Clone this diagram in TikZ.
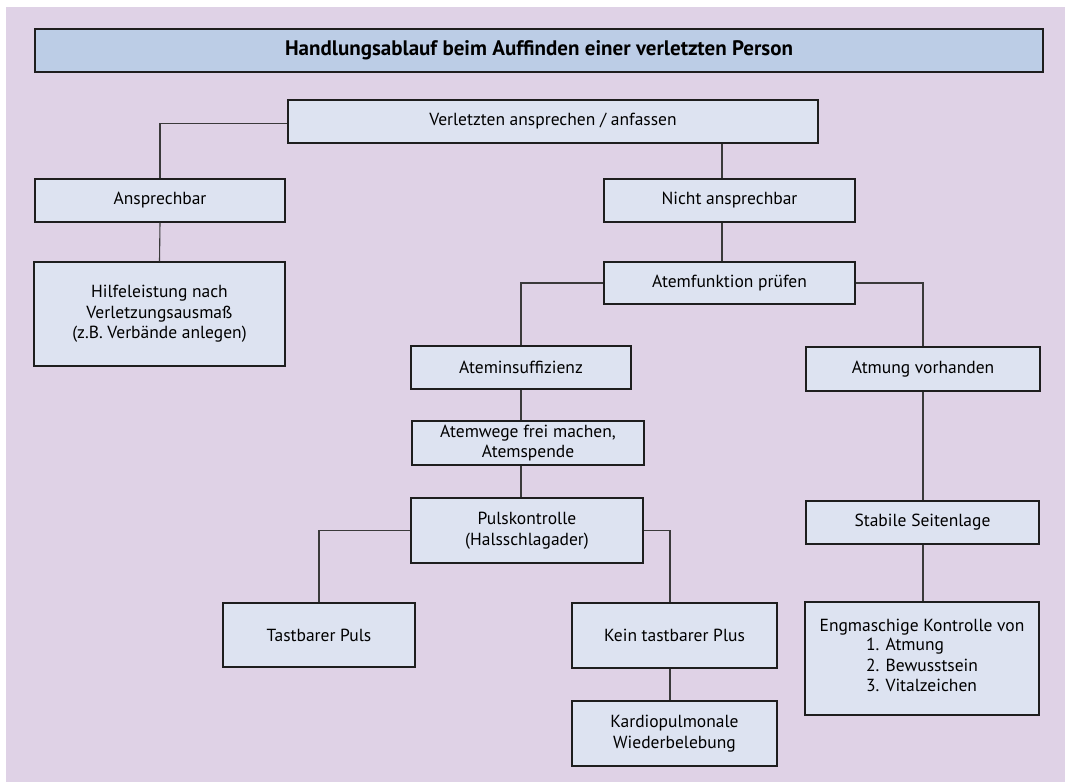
\documentclass[tikz,border=0pt]{standalone}
\usepackage{fontspec}
\setmainfont{PT Sans}
\definecolor{bg}{HTML}{DFD2E6}
\definecolor{titlefill}{HTML}{BCCDE6}
\definecolor{boxfill}{HTML}{DDE3F1}
\definecolor{edgec}{HTML}{1E1E1E}
\definecolor{connc}{HTML}{3A3A3A}
\newcommand\mybox[7][box]{\node[#1,minimum width={(#5-#3)*1pt},minimum height={(#6-#4)*1pt}] (#2) at ({(#3+#5)/2},{(#4+#6)/2}) {#7};}
\begin{document}
\begin{tikzpicture}[x=1pt,y=-1pt,
  box/.style={draw=edgec, fill=boxfill, line width=1.2pt, inner sep=0pt, align=center, text=black, font=\fontsize{17.5}{20.5}\selectfont},
  titlebox/.style={box, fill=titlefill, font=\fontsize{21}{24}\selectfont\bfseries},
  conn/.style={draw=connc, line width=1.1pt}]
\useasboundingbox (0,0) rectangle (1065,782);
\fill[white] (0,0) rectangle (1065,782);
\fill[bg] (6,7) rectangle (1065,782);

\mybox[titlebox]{title}{35}{29}{1043}{72}{Handlungsablauf beim Auffinden einer verletzten Person}
\mybox{ver}{288}{100}{818}{143}{Verletzten ansprechen / anfassen}
\mybox{ans}{35}{179}{285}{222}{Ansprechbar}
\mybox{hilfe}{34}{262}{285}{366}{Hilfeleistung nach\\Verletzungsausmaß\\(z.B. Verbände anlegen)}
\mybox{nicht}{604}{179}{855}{222}{Nicht ansprechbar}
\mybox{atemf}{604}{262}{855}{304}{Atemfunktion prüfen}
\mybox{insuf}{411}{346}{631}{389}{Ateminsuffizienz}
\mybox{vorh}{806}{347}{1040}{391}{Atmung vorhanden}
\mybox{wege}{412}{421}{644}{465}{Atemwege frei machen,\\Atemspende}
\mybox{puls}{411}{498}{643}{563}{Pulskontrolle\\(Halsschlagader)}
\mybox{tast}{223}{603}{415}{667}{Tastbarer Puls}
\mybox{kein}{572}{603}{777}{668}{Kein tastbarer Plus}
\mybox{kardio}{572}{701}{777}{766}{Kardiopulmonale\\Wiederbelebung}
\mybox{stab}{806}{501}{1039}{544}{Stabile Seitenlage}
\mybox{eng}{805}{602}{1039}{715}{Engmaschige Kontrolle von\\\begin{tabular}{@{}l@{}}1. Atmung\\2. Bewusstsein\\3. Vitalzeichen\end{tabular}}

\coordinate (cn) at ([xshift=-7.5pt]nicht.north);
\coordinate (ca) at ([xshift=-7.5pt]atemf.north);
\coordinate (ck) at ([xshift=-4.5pt]kein.north);

\draw[conn] ([yshift=-2pt]ver.west) -| (ans.north);
\draw[conn] (ans.south) -- (hilfe.north);
\draw[conn] (cn |- ver.south) -- (cn);
\draw[conn] (cn |- nicht.south) -- (ca);
\draw[conn] (atemf.west) -| (insuf.north);
\draw[conn] (atemf.east) -| (vorh.north);
\draw[conn] (insuf.south) -- (insuf.south |- wege.north);
\draw[conn] (insuf.south |- wege.south) -- (insuf.south |- puls.north);
\draw[conn] (puls.west) -| (tast.north);
\draw[conn] (puls.east) -| (ck);
\draw[conn] (ck |- kein.south) -- (ck |- kardio.north);
\draw[conn] (vorh.south) -- (vorh.south |- stab.north);
\draw[conn] (vorh.south |- stab.south) -- (vorh.south |- eng.north);
\end{tikzpicture}
\end{document}
